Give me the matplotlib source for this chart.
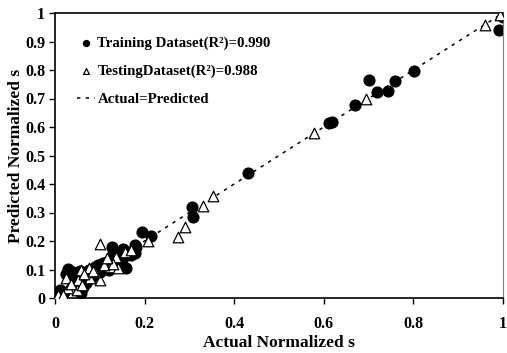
import matplotlib
matplotlib.use("Agg")
import matplotlib.pyplot as plt

# training data (filled circles)
train_x = [0.991, 1.000, 0.801, 0.702, 0.759, 0.719, 0.743, 0.670, 0.611, 0.619,
           0.430, 0.306, 0.307, 0.195, 0.215, 0.178, 0.127, 0.130, 0.152, 0.159,
           0.181, 0.178, 0.122, 0.107, 0.096, 0.030, 0.048, 0.067, 0.085, 0.011,
           0.059, 0.063, 0.070, 0.040, 0.055, 0.075, 0.090, 0.115, 0.140, 0.160,
           0.170, 0.100, 0.120, 0.005, 0.020, 0.140, 0.065, 0.080, 0.025, 0.045,
           0.105, 0.150, 0.035, 0.095]
train_y = [0.940, 0.985, 0.796, 0.765, 0.761, 0.724, 0.726, 0.676, 0.615, 0.618,
           0.440, 0.320, 0.285, 0.230, 0.219, 0.186, 0.180, 0.168, 0.171, 0.104,
           0.180, 0.157, 0.133, 0.122, 0.116, 0.101, 0.081, 0.075, 0.081, 0.028,
           0.016, 0.040, 0.051, 0.090, 0.095, 0.100, 0.110, 0.125, 0.145, 0.160,
           0.150, 0.090, 0.100, 0.005, 0.020, 0.120, 0.060, 0.070, 0.085, 0.060,
           0.105, 0.135, 0.075, 0.100]

# testing data (open triangles)
test_x = [0.993, 0.959, 0.694, 0.579, 0.353, 0.331, 0.291, 0.274, 0.207, 0.100,
          0.156, 0.170, 0.137, 0.122, 0.141, 0.076, 0.059, 0.024, 0.052, 0.078,
          0.100, 0.030, 0.048, 0.007, 0.018, 0.090, 0.110, 0.130, 0.035, 0.065,
          0.085, 0.115, 0.060]
test_y = [0.993, 0.958, 0.697, 0.578, 0.358, 0.323, 0.250, 0.215, 0.201, 0.188,
          0.163, 0.168, 0.145, 0.110, 0.104, 0.104, 0.098, 0.069, 0.063, 0.069,
          0.063, 0.034, 0.028, 0.010, 0.010, 0.090, 0.115, 0.120, 0.050, 0.085,
          0.095, 0.140, 0.045]

ideal = [0, 1]

x_ticks = [0, 0.2, 0.4, 0.6, 0.8, 1]
x_labels = ["0", "0.2", "0.4", "0.6", "0.8", "1"]
y_ticks = [0, 0.1, 0.2, 0.3, 0.4, 0.5, 0.6, 0.7, 0.8, 0.9, 1]
y_labels = ["0", "0.1", "0.2", "0.3", "0.4", "0.5", "0.6", "0.7", "0.8", "0.9", "1"]

plt.rcParams["font.family"] = ["Liberation Serif", "DejaVu Serif"]
plt.rcParams["font.weight"] = "bold"
plt.rcParams["font.size"] = 11.5

fig = plt.figure(figsize=(5.07, 3.53), dpi=100)
ax = fig.add_axes([55 / 507, 55 / 353, 448 / 507, 285 / 353])

ax.plot(ideal, ideal, color="black", linestyle=(0, (2.2, 3.5)), linewidth=1.1,
        label="Actual=Predicted", zorder=1)
ax.scatter(train_x, train_y, s=60, color="black", marker="o",
           label="Training Dataset(R\u00b2)=0.990", zorder=2)
ax.scatter(test_x, test_y, s=58, facecolor="white", edgecolor="black",
           linewidth=0.9, marker="^", label="TestingDataset(R\u00b2)=0.988", zorder=3)

ax.set_xlim(0, 1)
ax.set_ylim(0, 1)
ax.set_xticks(x_ticks)
ax.set_xticklabels(x_labels)
ax.set_yticks(y_ticks)
ax.set_yticklabels(y_labels)
ax.tick_params(direction="out", length=4, width=1, pad=9)
ax.tick_params(axis="y", pad=3)
for side in ["top", "bottom", "left"]:
    ax.spines[side].set_linewidth(1.2)
ax.spines["right"].set_color("#808080")

ax.set_xlabel("Actual Normalized s", fontweight="bold", fontsize=12.5, labelpad=2)
ax.set_ylabel("Predicted Normalized s", fontweight="bold", fontsize=12.5, labelpad=1)

handles, labels = ax.get_legend_handles_labels()
order = [1, 2, 0]
leg = ax.legend([handles[i] for i in order], [labels[i] for i in order],
                loc="upper left", frameon=False, markerscale=0.55,
                handlelength=1.2, handletextpad=0.15, labelspacing=0.98,
                bbox_to_anchor=(0.02, 0.965), prop={"weight": "bold", "size": 10.7})

fig.savefig("out.png", dpi=100)
